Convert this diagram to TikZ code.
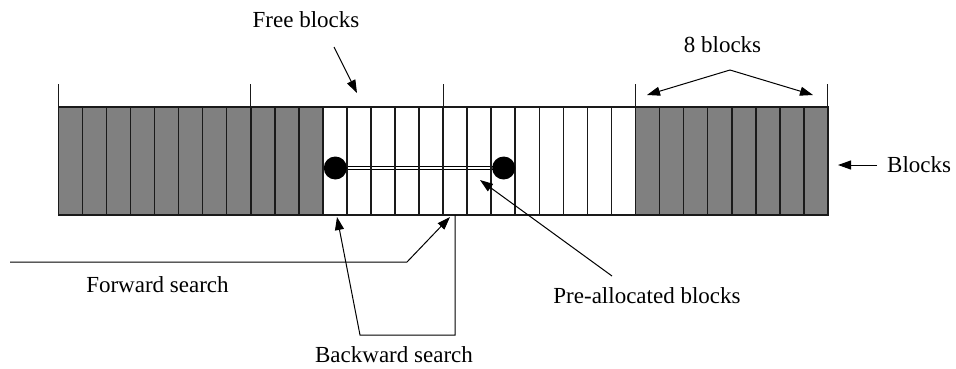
\documentclass[tikz,border=0pt]{standalone}
\usepackage{fontspec}
\setmainfont{Liberation Serif}
\usetikzlibrary{arrows.meta}
\definecolor{usedgray}{HTML}{808080}
\definecolor{inkline}{HTML}{1A1A1A}
\begin{document}
\begin{tikzpicture}[x=1pt,y=-1pt,
  label/.style={font=\fontsize{23}{27}\selectfont,inner sep=0pt},
  divider/.style={draw=inkline,line width=1.6pt},
  tick/.style={draw=inkline,line width=1pt},
  pointer/.style={draw=black,line width=1pt,-{Triangle[length=13pt,width=9pt]}},
  leader/.style={draw=black,line width=1pt},
  marker/.style={circle,fill=black,minimum size=23pt,inner sep=0pt},
]
\useasboundingbox (0,0) rectangle (956,368);

% 32 blocks, grouped by eight
\def\cw{24.05}
\fill[usedgray] (58.3,107) rectangle (323.3,215);
\fill[usedgray] (635.5,107) rectangle (827.9,215);

% pre-allocated run: double line between the two markers
\coordinate (pa1) at (335.3,168);
\coordinate (pa2) at (503.7,168);
\draw[line width=1pt,double=white,double distance=2.5pt] (pa1) -- (pa2);

\draw[divider] (58.3,107) rectangle (827.9,215);
\foreach \i in {1,...,31}
  \draw[divider] ({58.3+\cw*\i},107) -- ({58.3+\cw*\i},215);
\foreach \g in {0,...,4}
  \draw[tick] ({58.3+8*\cw*\g},84) -- ({58.3+8*\cw*\g},107);

\node[marker] (m1) at (pa1) {};
\node[marker] (m2) at (pa2) {};

% labels
\node[label,anchor=base] (free) at (306,27) {Free blocks};
\node[label,anchor=base] (eight) at (722.5,52) {8 blocks};
\node[label,anchor=base west] (blk) at (887,172) {Blocks};
\node[label,anchor=base] (fwd) at (157.5,292) {Forward search};
\node[label,anchor=base] (bwd) at (394,362) {Backward search};
\node[label,anchor=base] (pre) at (647,303) {Pre-allocated blocks};

% pointer ends
\coordinate (freeA) at (334,47);
\coordinate (freeB) at (357,93);
\coordinate (apex) at (730,70);
\coordinate (eightL) at (647,95);
\coordinate (eightR) at (813,95);
\coordinate (blkA) at (877,165);
\coordinate (blkB) at (838,165);
\coordinate (fwdA) at (10,262);
\coordinate (fwdK) at (407,262);
\coordinate (fwdB) at (450,217);
\coordinate (bwdT) at (455,215);
\coordinate (bwdR) at (455,335);
\coordinate (bwdL) at (360,335);
\coordinate (bwdB) at (337,217);
\coordinate (preA) at (612,276);
\coordinate (preB) at (480,180);

\draw[pointer] (freeA) -- (freeB);
\draw[pointer] (apex) -- (eightL);
\draw[pointer] (apex) -- (eightR);
\draw[pointer] (blkA) -- (blkB);
\draw[pointer] (fwdA) -- (fwdK) -- (fwdB);
\draw[pointer] (bwdT) -- (bwdR) -- (bwdL) -- (bwdB);
\draw[pointer] (preA) -- (preB);
\end{tikzpicture}
\end{document}
